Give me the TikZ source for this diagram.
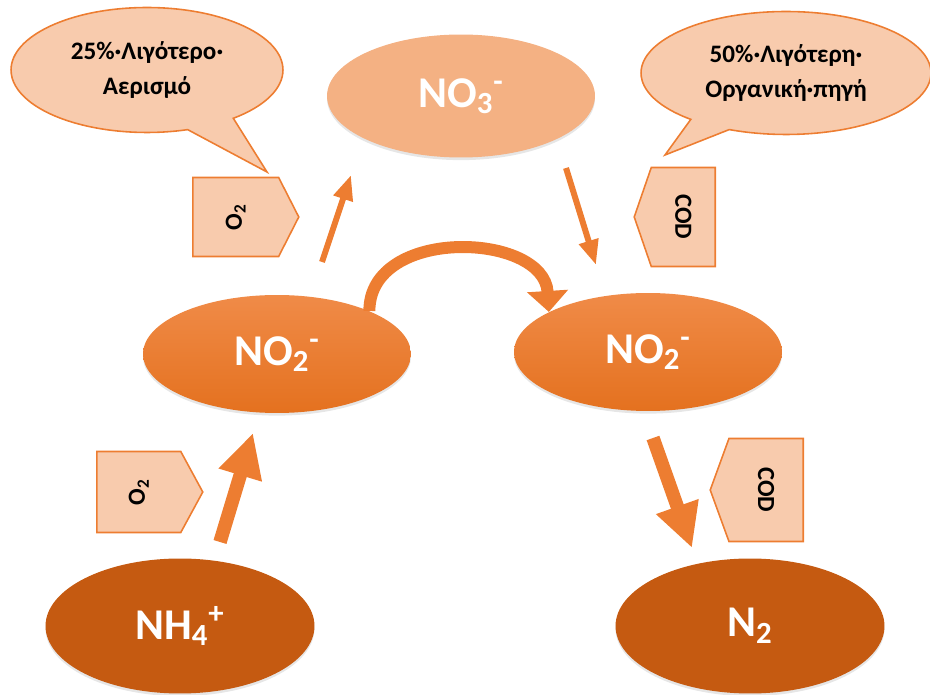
\documentclass[tikz,border=0pt]{standalone}
\usepackage{fontspec}
\setmainfont{Carlito}
\usepackage{tikz}
\usetikzlibrary{positioning,arrows.meta,shapes.geometric,shapes.symbols,shapes.callouts,shadows}

\definecolor{nitrate}{HTML}{F4B183}
\definecolor{nitriteTop}{HTML}{F08B48}
\definecolor{nitriteBot}{HTML}{E4711F}
\definecolor{darkN}{HTML}{C55A11}
\definecolor{paleOr}{HTML}{F8CBAD}
\definecolor{lineOr}{HTML}{ED7D31}

\tikzset{
  species/.style={ellipse, inner sep=0pt, text=white,
    font=\fontsize{25}{30}\selectfont\bfseries,
    drop shadow={shadow xshift=0pt, shadow yshift=-1.5pt, opacity=0.2}},
  bubble/.style={ellipse callout, draw=lineOr, fill=paleOr, line width=0.9pt,
    align=center, inner sep=0pt, font=\fontsize{14.3}{20}\selectfont\bfseries},
  tagbox/.style={signal, draw=lineOr, fill=paleOr, line width=0.9pt,
    inner sep=0pt, font=\fontsize{14}{16}\selectfont\bfseries},
  thinarrow/.style={draw=lineOr, line width=0.12cm, -{Triangle[length=0.5cm, width=0.38cm]}},
  thickarrow/.style={draw=lineOr, line width=0.27cm, -{Triangle[length=0.88cm, width=0.84cm]}},
  bendarrow/.style={draw=lineOr, line width=0.24cm, -{Triangle[length=0.42cm, width=0.8cm]}}
}

\begin{document}
\begin{tikzpicture}[x=0.02cm, y=-0.02cm]
\useasboundingbox (0,0) rectangle (930,695);

% species
\node[species, fill=nitrate, minimum width=5.36cm, minimum height=2.46cm] (no3) at (461,96)
  {NO\textsubscript{3}\textsuperscript{-}};
\node[species, top color=nitriteTop, bottom color=nitriteBot, minimum width=5.36cm, minimum height=2.36cm] (no2L) at (277,354)
  {NO\textsubscript{2}\textsuperscript{-}};
\node[species, top color=nitriteTop, bottom color=nitriteBot, minimum width=5.36cm, minimum height=2.36cm] (no2R) at (648,352)
  {NO\textsubscript{2}\textsuperscript{-}};
\node[species, fill=darkN, minimum width=5.38cm, minimum height=2.7cm] (nh4) at (180,626)
  {NH\textsubscript{4}\textsuperscript{+}};
\node[species, fill=darkN, minimum width=5.38cm, minimum height=2.7cm] (n2) at (750,626)
  {N\textsubscript{2}};

% speech bubbles
\node[bubble, minimum width=5.44cm, minimum height=2.5cm, callout pointer arc=22,
  callout absolute pointer={(267,172)}] (noteAir) at (147,70)
  {25\%·Λιγότερο·\\Αερισμό};
\node[bubble, minimum width=5.8cm, minimum height=2.46cm, callout pointer arc=18,
  callout absolute pointer={(665,155)}] (noteCod) at (786,73)
  {50\%·Λιγότερη·\\Οργανική·πηγή};

% O2 / COD tags
\node[tagbox, signal to=east, signal pointer angle=126, anchor=west,
  minimum width=2.12cm, minimum height=1.58cm] (tagO2a) at (192,217)
  {\rotatebox{90}{O\textsubscript{2}}};
\node[tagbox, signal to=east, signal pointer angle=123, anchor=west,
  minimum width=2.12cm, minimum height=1.62cm] (tagO2b) at (96,492)
  {\rotatebox{90}{O\textsubscript{2}}};
\node[tagbox, signal to=west, signal pointer angle=142, anchor=east,
  minimum width=1.62cm, minimum height=1.98cm] (tagCODa) at (716,217)
  {\rotatebox{-90}{COD}};
\node[tagbox, signal to=west, signal pointer angle=140, anchor=east,
  minimum width=1.86cm, minimum height=2.06cm] (tagCODb) at (804,490)
  {\rotatebox{-90}{COD}};

% arrow ends
\coordinate (upA) at (322,262);
\coordinate (upB) at (351,175);
\coordinate (dnA) at (566,168);
\coordinate (dnB) at (596,265);
\coordinate (nhA) at (220,542);
\coordinate (nhB) at (253,433);
\coordinate (nA) at (653,438);
\coordinate (nB) at (692,548);

\draw[thinarrow] (upA) -- (upB);
\draw[thinarrow] (dnA) -- (dnB);
\draw[thickarrow] (nhA) -- (nhB);
\draw[thickarrow] (nA) -- (nB);
\draw[bendarrow] (no2L.25) .. controls +(0,-85) and +(-5,-80) .. (no2R.158);
\end{tikzpicture}
\end{document}
